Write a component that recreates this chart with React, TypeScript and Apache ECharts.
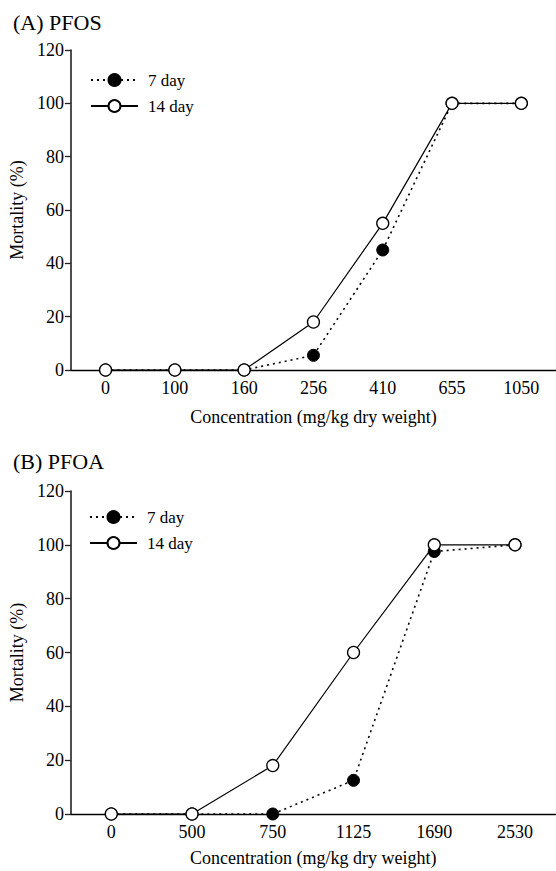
import React, { useEffect, useRef } from "react";
import * as echarts from "echarts";

const topCategories = ["0", "100", "160", "256", "410", "655", "1050"];
const top7day = [0, 0, 0, 5.5, 45, 100, 100];
const top14day = [0, 0, 0, 18, 55, 100, 100];

const bottomCategories = ["0", "500", "750", "1125", "1690", "2530"];
const bottom7day = [0, 0, 0, 12.5, 97.5, 100];
const bottom14day = [0, 0, 18, 60, 100, 100];

const panelTitles = ["(A) PFOS", "(B) PFOA"];
const seriesNames = ["7 day", "14 day"];
const xAxisTitle = "Concentration (mg/kg dry weight)";
const yAxisTitle = "Mortality (%)";

const FONT = "Liberation Serif";
const txt = (size: number) => ({ fontFamily: FONT, fontSize: size, fontWeight: "normal", fontStyle: "normal", color: "#000" });

export default function App() {
  const ref = useRef<HTMLDivElement>(null);
  useEffect(() => {
    document.body.style.margin = "0";
    const chart = echarts.init(ref.current!, null, { renderer: "svg" });

    const mkX = (gridIndex: number, data: string[], nameGap: number) => ({
      type: "category",
      gridIndex,
      data,
      boundaryGap: true,
      name: xAxisTitle,
      nameLocation: "middle",
      nameGap,
      nameTextStyle: txt(18),
      axisLine: { lineStyle: { color: "#000", width: 1.3 } },
      axisTick: { inside: true, length: 5, lineStyle: { color: "#000", width: 1.2 } },
      axisLabel: { ...txt(18), margin: 9 },
      splitLine: { show: false },
    });
    const mkY = (gridIndex: number) => ({
      type: "value",
      gridIndex,
      min: 0,
      max: 120,
      interval: 20,
      name: yAxisTitle,
      nameLocation: "middle",
      nameGap: 36.5,
      nameTextStyle: txt(18),
      axisLine: { show: true, lineStyle: { color: "#222", width: 1.6 } },
      axisTick: { show: true, inside: false, length: 6, lineStyle: { color: "#222", width: 1.3 } },
      axisLabel: { ...txt(18), margin: 7 },
      splitLine: { show: false },
    });
    const mk7 = (idx: number, data: number[]) => ({
      name: seriesNames[0],
      type: "line",
      xAxisIndex: idx,
      yAxisIndex: idx,
      data,
      symbol: "circle",
      symbolSize: 12,
      z: 2,
      lineStyle: { color: "#000", width: 1.6, type: [2, 4] },
      itemStyle: { color: "#000", borderColor: "#000", borderWidth: 1 },
    });
    const mk14 = (idx: number, data: number[]) => ({
      name: seriesNames[1],
      type: "line",
      xAxisIndex: idx,
      yAxisIndex: idx,
      data,
      symbol: "circle",
      symbolSize: 12,
      z: 3,
      lineStyle: { color: "#000", width: 1.2, type: "solid" },
      itemStyle: { color: "#fff", borderColor: "#000", borderWidth: 1.3 },
    });
    const mkLegend = (left: number, top: number) => ({
      orient: "vertical",
      left,
      top,
      padding: 0,
      itemWidth: 47,
      itemHeight: 15,
      itemGap: 9,
      data: seriesNames,
      textStyle: { ...txt(17), padding: [0, 0, 0, 5] },
    });

    chart.setOption({
      animation: false,
      backgroundColor: "#fff",
      textStyle: { fontFamily: FONT, fontWeight: "normal" },
      title: [
        { text: panelTitles[0], left: 13, top: 11, padding: 0, textStyle: txt(22) },
        { text: panelTitles[1], left: 13, top: 450, padding: 0, textStyle: txt(22) },
      ],
      legend: [mkLegend(90, 71.5), mkLegend(89, 508.5)],
      grid: [
        { left: 66.5, top: 50, width: 491.4, height: 320 },
        { left: 67, top: 491, width: 488.4, height: 323 },
      ],
      xAxis: [mkX(0, topCategories, 38), mkX(1, bottomCategories, 35)],
      yAxis: [mkY(0), mkY(1)],
      series: [mk7(0, top7day), mk14(0, top14day), mk7(1, bottom7day), mk14(1, bottom14day)],
    });
    return () => chart.dispose();
  }, []);
  return <div ref={ref} style={{ position: "absolute", left: 0, top: 0, width: 556, height: 871 }} />;
}
